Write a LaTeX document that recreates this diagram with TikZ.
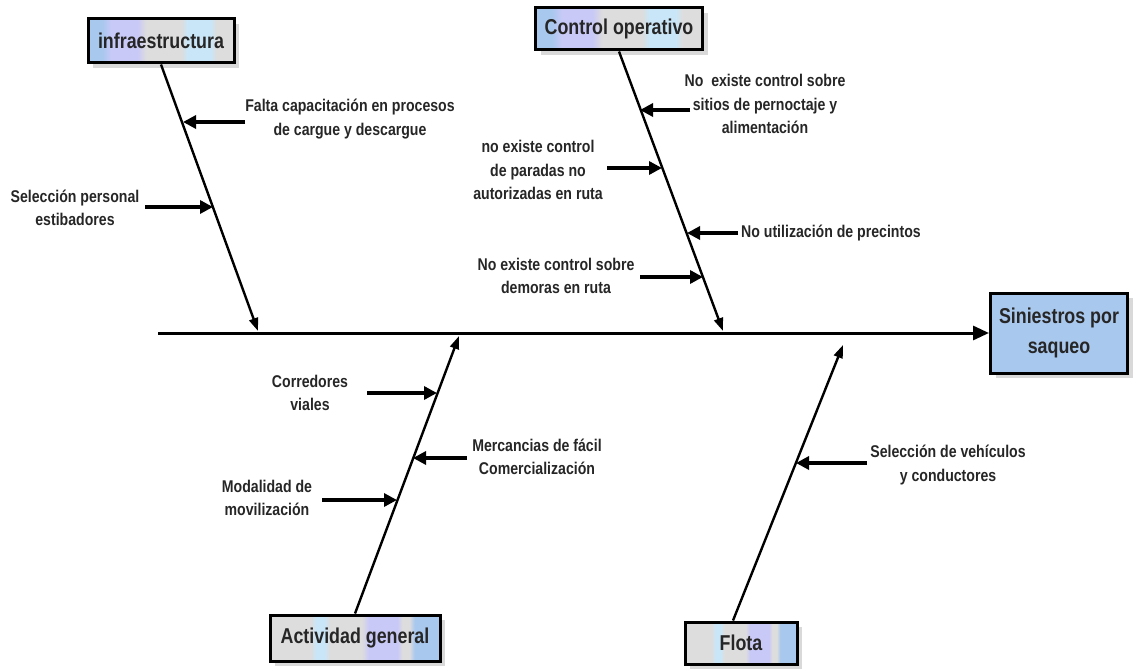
\documentclass[tikz,border=0pt]{standalone}
\usepackage{fontspec}
\setmainfont{Liberation Sans}[FakeStretch=0.83]
\usetikzlibrary{arrows.meta,shadows}
\definecolor{cBlue}{HTML}{A9C8EE}
\definecolor{cLav}{HTML}{C9C9F7}
\definecolor{cGray}{HTML}{DDDDDD}
\definecolor{cCyan}{HTML}{C9E6F8}
\pgfdeclarehorizontalshading{stripeA}{100bp}{color(0bp)=(cBlue); color(30bp)=(cBlue); color(33bp)=(cLav); color(42bp)=(cLav); color(45bp)=(cGray); color(57bp)=(cGray); color(59bp)=(cCyan); color(67bp)=(cCyan); color(69bp)=(cGray); color(100bp)=(cGray)}
\pgfdeclarehorizontalshading{stripeB}{100bp}{color(0bp)=(cGray); color(37bp)=(cGray); color(38.5bp)=(cCyan); color(41bp)=(cCyan); color(42.5bp)=(cGray); color(52bp)=(cGray); color(54bp)=(cLav); color(62.5bp)=(cLav); color(64bp)=(cGray); color(66bp)=(cGray); color(67.5bp)=(cBlue); color(100bp)=(cBlue)}
\begin{document}
\begin{tikzpicture}[x=1pt,y=-1pt,
  box/.style={draw=black, line width=3pt, inner sep=0pt, text=black!85,
    font=\bfseries\fontsize{21.5}{30}\selectfont,
    drop shadow={shadow xshift=5pt, shadow yshift=-5pt, fill=black!15, opacity=1}},
  lbl/.style={font=\bfseries\fontsize{17}{23.5}\selectfont, align=center, text=black!85, inner sep=0pt},
  bone/.style={line width=2.4pt, -{Triangle[length=13pt,width=9pt]}},
  cause/.style={line width=3.5pt, -{Triangle[length=13pt,width=13pt]}},
  spine/.style={line width=3pt, -{Triangle[length=16pt,width=14pt]}}]
\useasboundingbox (0,0) rectangle (1138,671);

% boxes
\node[box, shading=stripeA, minimum width=146pt, minimum height=44pt] (infra) at (161,41) {infraestructura};
\node[box, shading=stripeA, minimum width=167pt, minimum height=42pt] (ctrl) at (619,29) {Control operativo};
\node[box, fill=cBlue, minimum width=137pt, minimum height=80pt, align=center] (sin) at (1059,333) {Siniestros por\\saqueo};
\node[box, shading=stripeB, minimum width=170pt, minimum height=46pt] (act) at (355,638) {Actividad general};
\node[box, shading=stripeB, minimum width=112pt, minimum height=42pt] (flota) at (741,643) {Flota};

% spine
\coordinate (sp0) at (158,333);
\draw[spine] (sp0) -- (sin.west);

% bones
\coordinate (iE) at (258,331);
\coordinate (cE) at (723,331);
\coordinate (aE) at (459,336);
\coordinate (fE) at (843,345);
\draw[bone] (infra.south) -- (iE);
\draw[bone] (ctrl.south) -- (cE);
\draw[bone] (act.north) -- (aE);
\draw[bone] ([xshift=-8pt]flota.north) -- (fE);

% causes
\node[lbl] (t1) at (350,119) {Falta capacitación en procesos\\de cargue y descargue};
\coordinate (t1s) at (245,122); \coordinate (t1e) at (183,122);
\draw[cause] (t1s) -- (t1e);

\node[lbl] (t2) at (75,208) {Selección personal\\estibadores};
\coordinate (t2s) at (145,207); \coordinate (t2e) at (213,207);
\draw[cause] (t2s) -- (t2e);

\node[lbl] (t3) at (765,104) {No~ existe control sobre\\sitios de pernoctaje y\\alimentación};
\coordinate (t3s) at (690,110); \coordinate (t3e) at (640,110);
\draw[cause] (t3s) -- (t3e);

\node[lbl] (t4) at (538,170) {no existe control\\de paradas no\\autorizadas en ruta};
\coordinate (t4s) at (607,168); \coordinate (t4e) at (662,168);
\draw[cause] (t4s) -- (t4e);

\node[lbl, anchor=west] (t5) at (741,233) {No utilización de precintos};
\coordinate (t5s) at (738,233); \coordinate (t5e) at (687,233);
\draw[cause] (t5s) -- (t5e);

\node[lbl] (t6) at (556,276) {No existe control sobre\\demoras en ruta};
\coordinate (t6s) at (640,277); \coordinate (t6e) at (703,277);
\draw[cause] (t6s) -- (t6e);

\node[lbl] (t7) at (310,393) {Corredores\\viales};
\coordinate (t7s) at (367,393); \coordinate (t7e) at (437,393);
\draw[cause] (t7s) -- (t7e);

\node[lbl] (t8) at (537,457) {Mercancias de fácil\\Comercialización};
\coordinate (t8s) at (467,458); \coordinate (t8e) at (413,458);
\draw[cause] (t8s) -- (t8e);

\node[lbl] (t9) at (267,498) {Modalidad de\\movilización};
\coordinate (t9s) at (322,500); \coordinate (t9e) at (397,500);
\draw[cause] (t9s) -- (t9e);

\node[lbl] (t10) at (948,465) {Selección de vehículos\\y conductores};
\coordinate (t10s) at (867,463); \coordinate (t10e) at (796,463);
\draw[cause] (t10s) -- (t10e);
\end{tikzpicture}
\end{document}
